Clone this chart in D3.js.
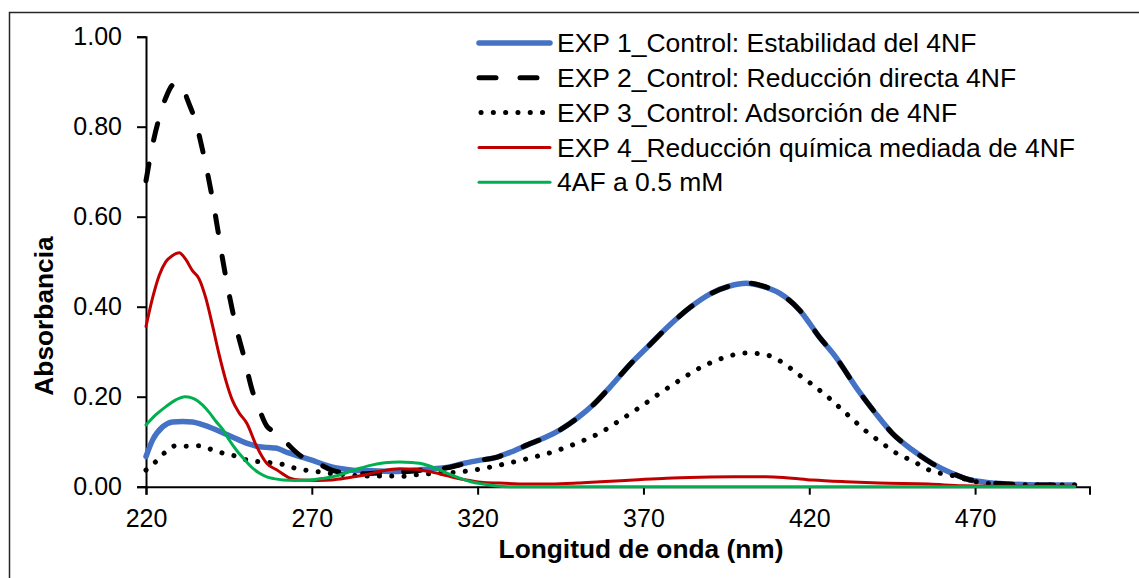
<!DOCTYPE html>
<html>
<head>
<meta charset="utf-8">
<script src="https://cdn.jsdelivr.net/npm/d3@7"></script>
<style>
	body { margin: 0; background: #fff; }
	svg { display: block; font-family: Arial, "Liberation Sans", sans-serif; }
	.tick text { font-size: 25px; fill: #000; }
	.axis-title { font-size: 26.3px; font-weight: bold; fill: #000; }
	.legend-text { font-size: 26.5px; fill: #000; }
</style>
</head>
<body>
<div id="chart"></div>
<script>

//SPECTRA: [wavelength nm, absorbance]
var exp1 = [[220,0.067],[222,0.104],[225,0.133],[228,0.144],[231,0.145],[234,0.144],[237,0.138],[240,0.130],
	[244,0.117],[248,0.104],[251,0.095],[254,0.089],[257,0.087],[259,0.086],[263,0.075],[266,0.068],[270,0.059],
	[273,0.051],[276,0.044],[280,0.039],[284,0.036],[290,0.035],[296,0.034],[300,0.036],[305,0.039],[310,0.042],
	[316,0.052],[320,0.058],[325,0.064],[330,0.077],[335,0.093],[340,0.108],[345,0.127],[350,0.152],[355,0.183],
	[360,0.222],[366,0.272],[372,0.316],[378,0.360],[384,0.398],[390,0.428],[396,0.446],[401,0.452],[406,0.445],
	[411,0.430],[417,0.393],[423,0.333],[428,0.288],[434,0.222],[440,0.163],[445,0.119],[451,0.082],[457,0.052],
	[463,0.030],[468,0.016],[473,0.010],[480,0.006],[490,0.004],[500,0.004]];

var exp2 = [[220,0.680],[222,0.760],[224,0.820],[226,0.865],[228,0.893],[229.5,0.898],[231,0.890],[232.5,0.860],
	[235,0.810],[237,0.750],[239,0.680],[241,0.600],[243,0.510],[245,0.430],[247,0.360],[249.5,0.290],[252,0.215],
	[254,0.175],[256.4,0.135],[258,0.125],[260.4,0.115],[263,0.093],[266.4,0.070],[271,0.055],[276,0.037],
	[281,0.030],[286,0.029],[292,0.031],[298,0.033],[305,0.038],[310,0.041],[316,0.051],[320,0.058],[325,0.064],
	[330,0.077],[335,0.093],[340,0.108],[345,0.127],[350,0.152],[355,0.183],[360,0.222],[366,0.272],[372,0.316],
	[378,0.360],[384,0.398],[390,0.428],[396,0.446],[401,0.453],[406,0.446],[411,0.430],[417,0.393],[423,0.333],
	[428,0.288],[434,0.222],[440,0.163],[445,0.119],[451,0.082],[457,0.052],[463,0.030],[468,0.016],[473,0.010],
	[480,0.006],[490,0.004],[500,0.004]];

var exp3 = [[220,0.037],[223,0.056],[226,0.078],[229,0.091],[232,0.090],[236,0.091],[240,0.082],[243,0.075],
	[247,0.068],[251,0.058],[255,0.055],[258,0.053],[261,0.050],[265,0.041],[268,0.037],[272,0.033],[276,0.029],
	[280,0.027],[286,0.024],[292,0.024],[297,0.023],[301,0.026],[308,0.030],[315,0.033],[322,0.041],[329,0.052],
	[336,0.064],[343,0.078],[350,0.097],[357,0.120],[363,0.148],[369,0.177],[375,0.208],[381,0.237],[387,0.264],
	[394,0.286],[401,0.297],[407,0.293],[411,0.280],[414,0.265],[417,0.248],[420,0.232],[423,0.215],[426,0.197],
	[429,0.177],[432,0.157],[435,0.137],[438,0.118],[442,0.097],[445,0.080],[448,0.068],[452,0.054],[455,0.041],
	[458,0.032],[462,0.027],[465,0.021],[468,0.015],[473,0.008],[480,0.005],[490,0.004],[500,0.004]];

var exp4 = [[220,0.356],[222,0.420],[224,0.470],[226,0.500],[228,0.514],[230,0.520],[232,0.505],[234,0.480],
	[236,0.462],[238,0.420],[240,0.360],[242,0.295],[244,0.238],[246,0.193],[248,0.165],[250.4,0.141],[253.4,0.089],
	[256.4,0.052],[259.5,0.037],[263.4,0.019],[266.4,0.015],[272,0.014],[276,0.015],[281,0.020],[286.5,0.027],
	[291,0.035],[296.5,0.040],[301,0.039],[306,0.033],[311,0.024],[316.6,0.015],[321,0.010],[326.6,0.008],
	[335,0.006],[342,0.006],[350,0.008],[357,0.011],[367,0.015],[377,0.019],[387,0.021],[397,0.022],[407,0.022],
	[413,0.020],[421,0.015],[431,0.011],[441,0.008],[456,0.006],[466,0.002],[475,0.001],[500,0.001]];

var exp5 = [[220,0.137],[223,0.160],[226,0.178],[229,0.193],[231.7,0.200],[234,0.197],[237,0.182],[239.3,0.163],
	[241,0.146],[243.3,0.126],[245,0.105],[247.3,0.081],[250,0.058],[252.2,0.041],[254,0.031],[256.4,0.022],
	[258.5,0.018],[261.3,0.015],[265,0.014],[269.4,0.015],[273,0.018],[276.3,0.022],[280,0.030],[284.5,0.041],
	[288,0.048],[292,0.053],[296.5,0.055],[300,0.054],[302.5,0.052],[305.5,0.046],[308.6,0.037],[311.5,0.028],
	[314.6,0.019],[318,0.011],[321.5,0.006],[325,0.002],[329.6,0.0],[400,0.0],[500,0.0]];

var seriesNames = [
	'EXP 1_Control: Estabilidad del 4NF',
	'EXP 2_Control: Reducción directa 4NF',
	'EXP 3_Control: Adsorción de 4NF',
	'EXP 4_Reducción química mediada de 4NF',
	'4AF a 0.5 mM'
];

var xTicks = [220, 270, 320, 370, 420, 470];
var yTicks = [0, 0.2, 0.4, 0.6, 0.8, 1.0];

var xTitle = 'Longitud de onda (nm)';
var yTitle = 'Absorbancia';

//LINE STYLES, same order as seriesNames
var styles = [
	{color: '#4472C4', width: 5.5, dash: null, cap: 'round'},
	{color: '#000000', width: 5, dash: '17,24', cap: 'round'},
	{color: '#000000', width: 5, dash: '0.1,12.2', cap: 'round'},
	{color: '#C00000', width: 3, dash: null, cap: 'round'},
	{color: '#00B050', width: 3, dash: null, cap: 'round'}
];

var width = 1139, height = 578;

var svg = d3.select('#chart')
	.append('svg')
	.attr('width', width)
	.attr('height', height);

//chart frame (only left and top edges fall inside the page)
svg.append('path')
	.attr('d', 'M9.5,' + height + 'V12.5H' + width)
	.attr('fill', 'none')
	.attr('stroke', '#262626')
	.attr('stroke-width', 1.5);

//SCALES
var x = d3.scaleLinear().domain([220, 504.5]).range([146, 1089.5]);
var y = d3.scaleLinear().domain([0, 1]).range([486.7, 36.7]);

//y axis
var yAxis = svg.append('g')
	.attr('transform', 'translate(146,0)')
	.call(d3.axisLeft(y).tickValues(yTicks).tickFormat(d3.format('.2f')).tickSizeOuter(0).tickSize(9).tickPadding(15));

//x axis
var xAxis = svg.append('g')
	.attr('transform', 'translate(0,' + y(0) + ')')
	.call(d3.axisBottom(x).tickValues(xTicks).tickSizeOuter(0).tickSize(8).tickPadding(15));

svg.selectAll('.domain, .tick line')
	.attr('stroke', '#000')
	.attr('stroke-width', 2);
svg.selectAll('g').attr('font-size', null).attr('font-family', null);

//axis titles
svg.append('text')
	.attr('class', 'axis-title')
	.attr('text-anchor', 'middle')
	.attr('x', 641)
	.attr('y', 558)
	.text(xTitle);

svg.append('text')
	.attr('class', 'axis-title')
	.attr('text-anchor', 'middle')
	.attr('transform', 'translate(53,316) rotate(-90)')
	.text(yTitle);

//SPECTRA LINES
var line = d3.line()
	.x(function(d){ return x(d[0]); })
	.y(function(d){ return y(d[1]); })
	.curve(d3.curveMonotoneX);

var allSeries = [exp1, exp2, exp3, exp4, exp5];

svg.append('g')
	.selectAll('path')
	.data(allSeries)
	.enter()
	.append('path')
	.attr('d', line)
	.attr('fill', 'none')
	.attr('stroke', function(d, i){ return styles[i].color; })
	.attr('stroke-width', function(d, i){ return styles[i].width; })
	.attr('stroke-dasharray', function(d, i){ return styles[i].dash; })
	.attr('stroke-linecap', function(d, i){ return styles[i].cap; })
	.attr('stroke-linejoin', 'round');

//LEGEND
var legend = svg.append('g')
	.selectAll('g')
	.data(seriesNames)
	.enter()
	.append('g')
	.attr('transform', function(d, i){ return 'translate(0,' + (43 + i * 34.8) + ')'; });

legend.append('line')
	.attr('x1', function(d, i){ return i == 2 ? 481 : 479; })
	.attr('x2', 550)
	.attr('stroke', function(d, i){ return styles[i].color; })
	.attr('stroke-width', function(d, i){ return styles[i].width; })
	.attr('stroke-dasharray', function(d, i){ return styles[i].dash; })
	.attr('stroke-linecap', function(d, i){ return styles[i].cap; });

legend.append('text')
	.attr('class', 'legend-text')
	.attr('x', 557)
	.attr('dy', '0.35em')
	.text(function(d){ return d; });

</script>
</body>
</html>
